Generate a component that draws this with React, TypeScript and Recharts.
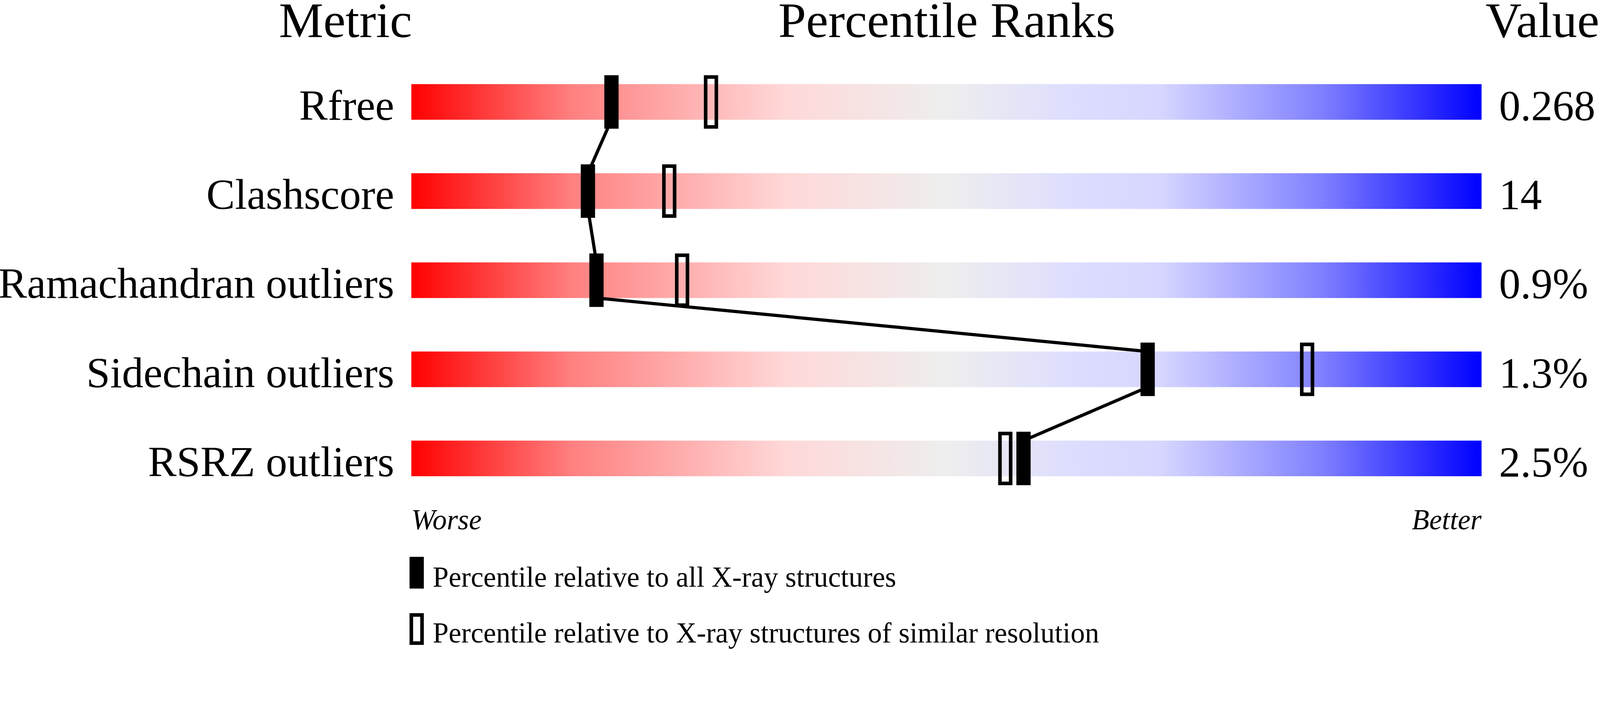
import * as React from 'react'
import { ComposedChart, XAxis, YAxis, Scatter, ReferenceArea } from 'recharts'

const metrics = ['Rfree', 'Clashscore', 'Ramachandran outliers', 'Sidechain outliers', 'RSRZ outliers']
const metricValues = ['0.268', '14', '0.9%', '1.3%', '2.5%']
// percentile relative to all X-ray structures
const allRanks = [18.7, 16.5, 17.3, 68.8, 57.2]
// percentile relative to structures of similar resolution
const similarRanks = [28.0, 24.1, 25.3, 83.7, 55.5]
const scaleEnds = ['Worse', 'Better']
const legendLabels = [
    'Percentile relative to all X-ray structures',
    'Percentile relative to X-ray structures of similar resolution',
]

const W = 4485
const H = 1824
const FONT = '"Liberation Serif", "Times New Roman", Times, serif'
const HALF = 0.2 // half bar thickness, in row units

const rowIdx = metrics.map((_, i) => i)
const allPts = allRanks.map((x, i) => ({ x, y: i }))
const similarPts = similarRanks.map((x, i) => ({ x, y: i }))
// connector runs from the bottom edge of one bar to the top edge of the next
const linkPts = allRanks.flatMap((x, i) => {
    const pts = []
    if (i > 0) pts.push({ x, y: i - HALF })
    if (i < allRanks.length - 1) pts.push({ x, y: i + HALF })
    return pts
})

function FilledMark(p: any) {
    return <rect x={p.cx - 20} y={p.cy - 75} width={40} height={150} fill="#000" />
}
function HollowMark(p: any) {
    return <rect x={p.cx - 15} y={p.cy - 70} width={30} height={140} fill="none" stroke="#000" strokeWidth={10} />
}
function NoMark() { return <g /> }

function LeftTick(p: any) {
    return <text x={p.x} y={p.y + 50} textAnchor="end" fontFamily={FONT} fontSize={120} fill="#000">{metrics[p.payload.value]}</text>
}
function RightTick(p: any) {
    return <text x={p.x} y={p.y + 51} textAnchor="start" fontFamily={FONT} fontSize={120} fill="#000">{metricValues[p.payload.value]}</text>
}
function EndTick(p: any) {
    const first = p.payload.value === 0
    return <text x={p.x} y={p.y + 74} textAnchor={first ? 'start' : 'end'} fontFamily={FONT} fontStyle="italic" fontSize={80} fill="#000">{first ? scaleEnds[0] : scaleEnds[1]}</text>
}

// fit the fixed-size drawing into whatever CSS viewport the page gets
function viewScale() {
    if (typeof window === 'undefined') return 1
    const w = document.documentElement.clientWidth || window.innerWidth
    const h = window.innerHeight
    return Math.min(w / W, h / H)
}

export default function App() {
    const k = viewScale()
    React.useEffect(() => {
        document.body.style.margin = '0'
        document.body.style.overflow = 'hidden'
    }, [])
    return (
        <div style={{ position: 'absolute', left: 0, top: 0, width: W * k, height: H * k, overflow: 'hidden', background: '#fff' }}>
            <div style={{ width: W, height: H, transform: `scale(${k})`, transformOrigin: '0 0' }}>
                <ComposedChart width={W} height={H} margin={{ top: 161, right: 0, bottom: 313, left: 0 }}>
                    <defs>
                        <linearGradient id="rankGrad" x1="0" y1="0" x2="1" y2="0">
                            <stop offset="0" stopColor="#ff0000" />
                            <stop offset="0.15" stopColor="#ff8080" />
                            <stop offset="0.35" stopColor="#ffd8d8" />
                            <stop offset="0.5" stopColor="#eeeeee" />
                            <stop offset="0.62" stopColor="#ddddff" />
                            <stop offset="0.7" stopColor="#d6d6ff" />
                            <stop offset="0.85" stopColor="#8080ff" />
                            <stop offset="1" stopColor="#0000ff" />
                        </linearGradient>
                    </defs>
                    <XAxis dataKey="x" type="number" domain={[0, 100]} ticks={[0, 100]} allowDataOverflow
                        height={100} axisLine={false} tickLine={false} tickSize={0} tickMargin={0} tick={EndTick} />
                    <YAxis dataKey="y" type="number" domain={[-0.5, 4.5]} ticks={rowIdx} reversed allowDataOverflow
                        width={1153} axisLine={false} tickLine={false} tickSize={0} tickMargin={48} tick={LeftTick} />
                    <YAxis yAxisId="right" orientation="right" type="number" domain={[-0.5, 4.5]} ticks={rowIdx} reversed allowDataOverflow
                        width={332} axisLine={false} tickLine={false} tickSize={0} tickMargin={49} tick={RightTick} />
                    {rowIdx.map(i => (
                        <ReferenceArea key={i} x1={0} x2={100} y1={i - HALF} y2={i + HALF}
                            fill="url(#rankGrad)" fillOpacity={1} stroke="none" ifOverflow="visible" />
                    ))}
                    <Scatter data={linkPts} line={{ stroke: '#000', strokeWidth: 9 }} shape={NoMark} isAnimationActive={false} legendType="none" />
                    <Scatter data={similarPts} shape={HollowMark} isAnimationActive={false} legendType="none" />
                    <Scatter data={allPts} shape={FilledMark} isAnimationActive={false} legendType="none" />
                    <g fontFamily={FONT} fill="#000">
                        <text x={1155} y={104} fontSize={140} textAnchor="end">Metric</text>
                        <text x={2654} y={104} fontSize={140} textAnchor="middle">Percentile Ranks</text>
                        <text x={4483} y={104} fontSize={140} textAnchor="end">Value</text>
                        <rect x={1148} y={1562} width={40} height={89} fill="#000" />
                        <text x={1213} y={1646} fontSize={80}>{legendLabels[0]}</text>
                        <rect x={1153} y={1725} width={30} height={79} fill="none" stroke="#000" strokeWidth={10} />
                        <text x={1213} y={1802} fontSize={80}>{legendLabels[1]}</text>
                    </g>
                </ComposedChart>
            </div>
        </div>
    )
}
